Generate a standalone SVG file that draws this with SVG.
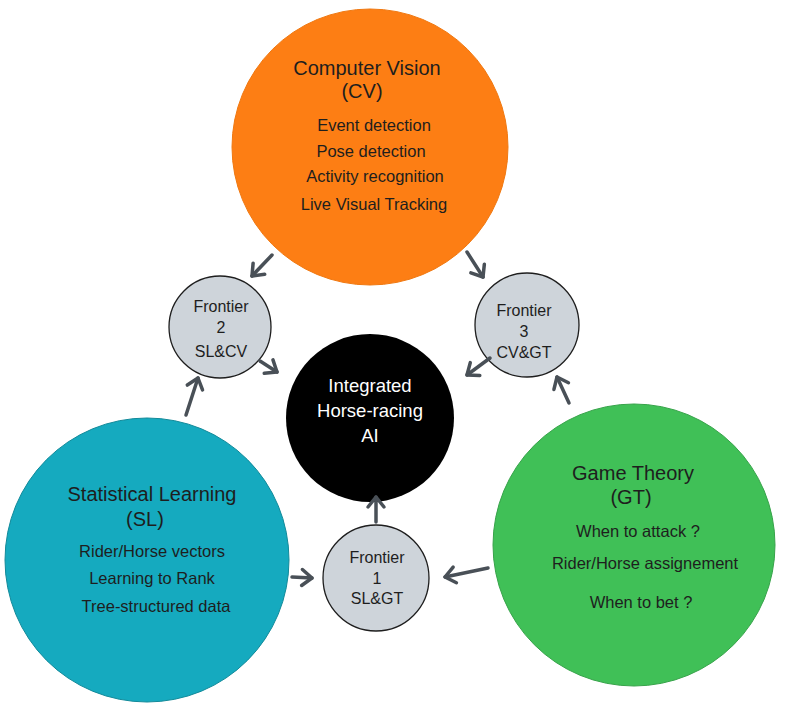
<svg xmlns="http://www.w3.org/2000/svg" width="785" height="713" viewBox="0 0 785 713">
<defs>
<marker id="ah" markerUnits="userSpaceOnUse" markerWidth="24" markerHeight="24" refX="12" refY="12" orient="auto" overflow="visible">
<path d="M2,4 L12,12 L2,20" fill="none" stroke="#495057" stroke-width="3.5" stroke-linecap="round" stroke-linejoin="round"/>
</marker>
</defs>
<style>
text{font-family:"Liberation Sans","Noto Sans",sans-serif;text-anchor:middle;fill:#1e1e1e}
.t{font-size:20px}
.s{font-size:16.5px}
.f{font-size:16px}
.w{fill:#ffffff;font-size:18.5px}
.fr{fill:#ced4da;stroke:#1e1e1e;stroke-width:1.3}
.c{stroke-width:1}
.a{fill:none;stroke:#495057;stroke-width:3.5;stroke-linecap:round;marker-end:url(#ah)}
</style>
<rect width="785" height="713" fill="#ffffff"/>
<g id="cv">
<circle class="c" cx="370" cy="147" r="138" fill="#fd7e14" stroke="#f07810"/>
<text class="t" x="367" y="75">Computer Vision</text>
<text class="t" x="362" y="98">(CV)</text>
<text class="s" x="374" y="131">Event detection</text>
<text class="s" x="371" y="157">Pose detection</text>
<text class="s" x="375" y="182">Activity recognition</text>
<text class="s" x="374" y="210">Live Visual Tracking</text>
</g>
<g id="sl">
<circle class="c" cx="147" cy="560" r="142" fill="#15aabf" stroke="#128a9a"/>
<text class="t" x="152" y="501">Statistical Learning</text>
<text class="t" x="145" y="526">(SL)</text>
<text class="s" x="152" y="557">Rider/Horse vectors</text>
<text class="s" x="152" y="584">Learning to Rank</text>
<text class="s" x="156" y="612">Tree-structured data</text>
</g>
<g id="gt">
<circle class="c" cx="634" cy="545" r="141" fill="#40c057" stroke="#37a34a"/>
<text class="t" x="633" y="480">Game Theory</text>
<text class="t" x="631" y="504">(GT)</text>
<text class="s" x="638" y="537">When to attack ?</text>
<text class="s" x="645" y="569">Rider/Horse assignement</text>
<text class="s" x="641" y="608">When to bet ?</text>
</g>
<g id="ai">
<circle cx="370" cy="418" r="84" fill="#000000"/>
<text class="w" x="370" y="392">Integrated</text>
<text class="w" x="370" y="417">Horse-racing</text>
<text class="w" x="370" y="442">AI</text>
</g>
<g id="f2">
<circle class="fr" cx="220" cy="327" r="51"/>
<text class="f" x="221" y="312">Frontier</text>
<text class="f" x="221" y="333">2</text>
<text class="f" x="221" y="357">SL&amp;CV</text>
</g>
<g id="f3">
<circle class="fr" cx="527" cy="325" r="52"/>
<text class="f" x="524" y="316">Frontier</text>
<text class="f" x="524" y="337">3</text>
<text class="f" x="524" y="358">CV&amp;GT</text>
</g>
<g id="f1">
<circle class="fr" cx="376" cy="578" r="53"/>
<text class="f" x="377" y="563">Frontier</text>
<text class="f" x="377" y="584">1</text>
<text class="f" x="377" y="604">SL&amp;GT</text>
</g>
<g id="connectors">
<path class="a" d="M272,255 L252,276"/>
<path class="a" d="M467,252 L483,277"/>
<path class="a" d="M260,361 L277,372"/>
<path class="a" d="M490,358 L467,375"/>
<path class="a" d="M186,415 L198,378"/>
<path class="a" d="M569,403 L557,377"/>
<path class="a" d="M292,577 L312,578"/>
<path class="a" d="M488,568 L445,577"/>
<path class="a" d="M376,522 L376,497"/>
</g>
</svg>
